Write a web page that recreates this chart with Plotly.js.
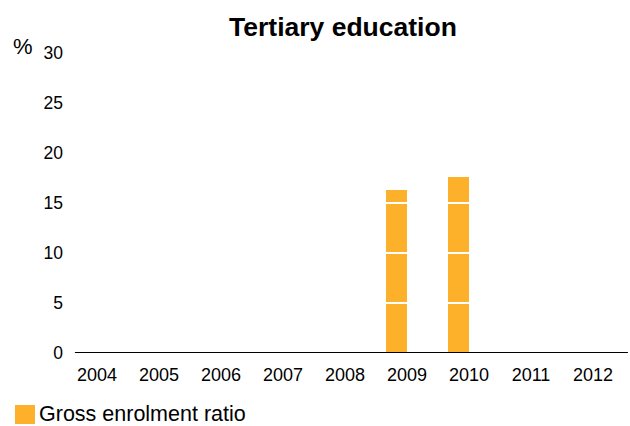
<!DOCTYPE html>
<html><head><meta charset="utf-8">
<script src="https://cdn.plot.ly/plotly-3.0.1.min.js"></script>
<style>body{margin:0;background:#fff}#c{width:630px;height:426px}</style>
</head><body><div id="c"></div>
<script>
const years = ['2004','2005','2006','2007','2008','2009','2010','2011','2012'];
const grossEnrolment = [null,null,null,null,null,16.3,17.6,null,null];
const emptySeries = [null,null,null,null,null,null,null,null,null];
const yTicks = [0,5,10,15,20,25,30];
const gridValues = [5,10,15,20,25];
const seriesName = 'Gross enrolment ratio';
const barColor = '#FDB02A';

const traces = [
  {type:'bar', x:years, y:grossEnrolment, name:seriesName,
   marker:{color:barColor}, showlegend:false},
  {type:'bar', x:years, y:emptySeries, name:'', showlegend:false,
   marker:{color:'rgba(0,0,0,0)'}}
];

const shapes = gridValues.map(v => ({type:'line', xref:'paper', yref:'y', x0:0, x1:1, y0:v, y1:v,
  line:{color:'#ffffff', width:2}, layer:'above'}));
// baseline
shapes.push({type:'line', xref:'paper', yref:'y', x0:0.016, x1:1.007, y0:0, y1:0,
  line:{color:'#000', width:2}, layer:'above'});
// legend swatch
shapes.push({type:'rect', xref:'paper', yref:'paper', x0:-0.0914, x1:-0.0556, y0:-0.1733, y1:-0.2367,
  line:{width:0}, fillcolor:barColor});

const layout = {
  width:630, height:426,
  margin:{l:66, r:6, t:53, b:73},
  paper_bgcolor:'#fff', plot_bgcolor:'#fff',
  font:{family:'Liberation Sans, Arial, sans-serif', size:18, color:'#000'},
  title:{text:'<b>Tertiary education</b>', x:0.5444, xref:'container', xanchor:'center',
         y:0.937, yref:'container', yanchor:'middle', font:{size:26.5, color:'#000'}},
  barmode:'group', bargap:0.323, bargroupgap:0,
  xaxis:{type:'category', showgrid:false, showline:false, zeroline:false, ticks:'',
         tickfont:{size:18}, ticklabelstandoff:9},
  yaxis:{range:[0,30], tickvals:yTicks, showgrid:false, zeroline:false, showline:false,
         ticks:'', tickfont:{size:17.5}, ticklabelstandoff:2},
  showlegend:false,
  shapes: shapes,
  annotations:[
    {text:'%', xref:'paper', yref:'paper', x:-0.077, y:1.02, xanchor:'center', yanchor:'middle',
     showarrow:false, font:{size:22}},
    {text:seriesName, xref:'paper', yref:'paper', x:-0.0520, y:-0.2033, xanchor:'left', yanchor:'middle',
     showarrow:false, font:{size:21.5}}
  ]
};
Plotly.newPlot('c', traces, layout, {displayModeBar:false, staticPlot:true});
</script></body></html>
